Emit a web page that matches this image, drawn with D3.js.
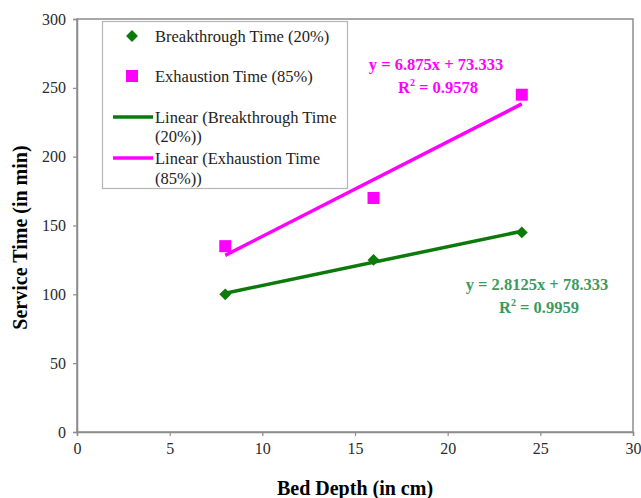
<!DOCTYPE html>
<html>
<head>
<meta charset="utf-8">
<script src="https://cdn.jsdelivr.net/npm/d3@7"></script>
<style>
  html, body { margin: 0; padding: 0; background: #fff; }
  svg { display: block; font-family: "Liberation Serif", "Times New Roman", serif; }
</style>
</head>
<body>
<svg id="chart" width="641" height="498"></svg>
<script>
// Bed depth (cm) and service times (min)
const bedDepth = [8, 16, 24];
const breakthroughTime = [100, 125, 145];
const exhaustionTime = [135, 170, 245];
const xTicks = [0, 5, 10, 15, 20, 25, 30];
const yTicks = [0, 50, 100, 150, 200, 250, 300];

const svg = d3.select("#chart");
const margin = { left: 77, right: 8, top: 19, bottom: 66 };
const W = 641, H = 498;

const x = d3.scaleLinear().domain([0, 30]).range([margin.left, W - margin.right]);
const y = d3.scaleLinear().domain([0, 300]).range([H - margin.bottom, margin.top]);

// least-squares fit
function fit(xs, ys) {
  const n = xs.length;
  const mx = d3.mean(xs), my = d3.mean(ys);
  let sxy = 0, sxx = 0, syy = 0;
  for (let i = 0; i < n; i++) {
    sxy += (xs[i] - mx) * (ys[i] - my);
    sxx += (xs[i] - mx) ** 2;
    syy += (ys[i] - my) ** 2;
  }
  const m = sxy / sxx, b = my - m * mx;
  return { m, b, r2: (sxy * sxy) / (sxx * syy) };
}

const fitB = fit(bedDepth, breakthroughTime);
const fitE = fit(bedDepth, exhaustionTime);

const green = "#0b7a0b";
const magenta = "#ff00ff";
const eqGreen = "#3c9a5f";
const axisGrey = "#8c8c8c";

// plot frame
svg.append("rect")
  .attr("x", x(0)).attr("y", y(300))
  .attr("width", x(30) - x(0)).attr("height", y(0) - y(300))
  .attr("fill", "none").attr("stroke", axisGrey).attr("stroke-width", 1.5);

// axes
const xAxis = svg.append("g")
  .attr("transform", `translate(0,${y(0)})`)
  .call(d3.axisBottom(x).tickValues(xTicks).tickSize(4).tickPadding(7));
const yAxis = svg.append("g")
  .attr("transform", `translate(${x(0)},0)`)
  .call(d3.axisLeft(y).tickValues(yTicks).tickSize(4).tickPadding(7));
[xAxis, yAxis].forEach(g => {
  g.select(".domain").attr("stroke", axisGrey).attr("stroke-width", 1.5);
  g.selectAll(".tick line").attr("stroke", axisGrey).attr("stroke-width", 1.2);
  g.selectAll(".tick text")
    .attr("fill", "#2a2a2a")
    .style("font-family", '"Liberation Serif", serif')
    .style("font-size", "16px");
});

// axis titles
svg.append("text")
  .attr("x", (x(0) + x(30)) / 2).attr("y", 495)
  .attr("text-anchor", "middle")
  .style("font-weight", "bold").style("font-size", "20px")
  .text("Bed Depth (in cm)");
svg.append("text")
  .attr("transform", `translate(27,${(y(0) + y(300)) / 2 + 12}) rotate(-90)`)
  .attr("text-anchor", "middle")
  .style("font-weight", "bold").style("font-size", "20px")
  .text("Service Time (in min)");

// trend lines
const x0 = d3.min(bedDepth), x1 = d3.max(bedDepth);
[[fitE, magenta], [fitB, green]].forEach(([f, c]) => {
  svg.append("line")
    .attr("x1", x(x0)).attr("y1", y(f.m * x0 + f.b))
    .attr("x2", x(x1)).attr("y2", y(f.m * x1 + f.b))
    .attr("stroke", c).attr("stroke-width", 3.5);
});

// markers
const diamond = d3.symbol().type(d3.symbolDiamond2).size(90);
svg.append("g").selectAll("path")
  .data(bedDepth.map((d, i) => [d, breakthroughTime[i]]))
  .join("path")
  .attr("d", diamond)
  .attr("transform", d => `translate(${x(d[0])},${y(d[1])})`)
  .attr("fill", green);
svg.append("g").selectAll("rect")
  .data(bedDepth.map((d, i) => [d, exhaustionTime[i]]))
  .join("rect")
  .attr("x", d => x(d[0]) - 6).attr("y", d => y(d[1]) - 6)
  .attr("width", 12).attr("height", 12)
  .attr("fill", magenta);

// regression equations
function equation(f, cx, cy, color, digits) {
  const g = svg.append("g").attr("fill", color)
    .style("font-weight", "bold").style("font-size", "16.5px");
  g.append("text").attr("x", cx).attr("y", cy).attr("text-anchor", "middle")
    .text(`y = ${f.m.toFixed(digits)}x + ${f.b.toFixed(3)}`);
  const t = g.append("text").attr("x", cx + 2).attr("y", cy + 23).attr("text-anchor", "middle");
  t.append("tspan").text("R");
  t.append("tspan").attr("dy", -7).style("font-size", "10px").text("2");
  t.append("tspan").attr("dy", 7).text(` = ${f.r2.toFixed(4)}`);
}
equation(fitE, 436, 70, magenta, 3);
equation(fitB, 537, 290, eqGreen, 4);

// legend
const lg = svg.append("g");
lg.append("rect")
  .attr("x", 102.5).attr("y", 21.5).attr("width", 245).attr("height", 167)
  .attr("fill", "#fff").attr("stroke", "#b5b5b5").attr("stroke-width", 1.2);
function legText(tx, ty, s) {
  lg.append("text").attr("x", tx).attr("y", ty)
    .style("font-size", "16.5px").attr("fill", "#222").text(s);
}
lg.append("path").attr("d", diamond).attr("transform", "translate(132,36)").attr("fill", green);
legText(155, 41.5, "Breakthrough Time (20%)");
lg.append("rect").attr("x", 126).attr("y", 70).attr("width", 12).attr("height", 12).attr("fill", magenta);
legText(155, 81.5, "Exhaustion Time (85%)");
lg.append("line").attr("x1", 113).attr("x2", 153).attr("y1", 117).attr("y2", 117)
  .attr("stroke", green).attr("stroke-width", 3.5);
legText(155, 122.5, "Linear (Breakthrough Time");
legText(155, 141.5, "(20%))");
lg.append("line").attr("x1", 113).attr("x2", 153).attr("y1", 158).attr("y2", 158)
  .attr("stroke", magenta).attr("stroke-width", 3.5);
legText(155, 163.5, "Linear (Exhaustion Time");
legText(155, 183.5, "(85%))");
</script>
</body>
</html>
